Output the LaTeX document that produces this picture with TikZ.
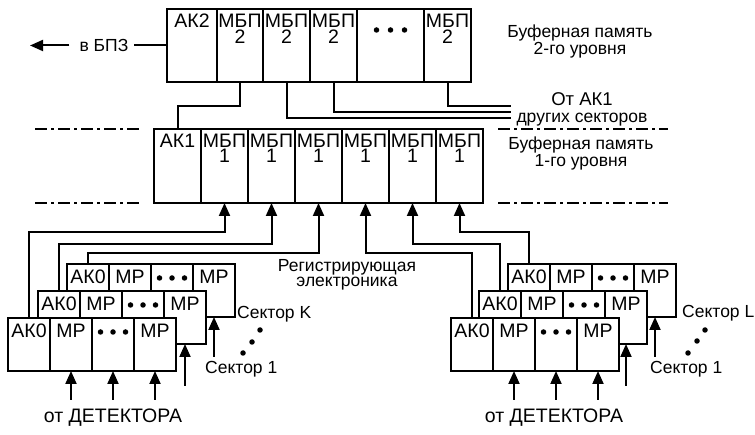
\documentclass[tikz,border=0pt]{standalone}
\usepackage{fontspec}
\setmainfont{Liberation Sans}
\usetikzlibrary{arrows.meta,calc}
\tikzset{
  cell/.style={draw, line width=2pt, fill=white, inner sep=0pt, outer sep=0pt, anchor=north west},
  ctext/.style={inner sep=0pt, anchor=north, align=center, font=\fontsize{19.5}{15.5}\selectfont},
  lbl/.style={inner sep=0pt, align=center, font=\fontsize{17.5}{15}\selectfont},
  capl/.style={inner sep=0pt, align=center, font=\fontsize{19.5}{15}\selectfont},
  wire/.style={line width=2pt},
  arr/.style={wire, -{Triangle[length=13pt,width=11pt]}},
  dashdot/.style={line width=2pt, dash pattern=on 12pt off 4pt on 3pt off 4pt},
  dotm/.style={fill, circle, inner sep=0pt, minimum size=5.5pt},
}
\newcommand\secblk[3]{%
  \node[cell, minimum width=42pt, minimum height=53pt] (#1a) at (#2,#3) {};
  \node[cell, minimum width=42pt, minimum height=53pt] (#1b) at (#1a.north east) {};
  \node[cell, minimum width=42pt, minimum height=53pt] (#1c) at (#1b.north east) {};
  \node[cell, minimum width=42pt, minimum height=53pt] (#1d) at (#1c.north east) {};
  \node[ctext] (#1ta) at ([yshift=-6pt]#1a.north) {АК0};
  \node[ctext] (#1tb) at ([yshift=-6pt]#1b.north) {МР};
  \node[dotm] (#1p1) at ([xshift=-12.5pt,yshift=-14pt]#1c.north) {};
  \node[dotm] (#1p2) at ([yshift=-14pt]#1c.north) {};
  \node[dotm] (#1p3) at ([xshift=12.5pt,yshift=-14pt]#1c.north) {};
  \node[ctext] (#1td) at ([yshift=-6pt]#1d.north) {МР};
}
\begin{document}
\begin{tikzpicture}[x=1pt,y=-1pt]
\useasboundingbox (0,0) rectangle (755,435);

% ---- level 2 buffer
\node[cell, minimum width=50pt, minimum height=73pt] (a0) at (167,9) {};
\node[cell, minimum width=46pt, minimum height=73pt] (a1) at (a0.north east) {};
\node[cell, minimum width=47pt, minimum height=73pt] (a2) at (a1.north east) {};
\node[cell, minimum width=47pt, minimum height=73pt] (a3) at (a2.north east) {};
\node[cell, minimum width=67pt, minimum height=73pt] (a4) at (a3.north east) {};
\node[cell, minimum width=47pt, minimum height=73pt] (a5) at (a4.north east) {};
\node[ctext] (ta0) at ([yshift=-5pt]a0.north) {АК2};
\node[ctext] (ta1) at ([yshift=-5pt]a1.north) {МБП\\2};
\node[ctext] (ta2) at ([yshift=-5pt]a2.north) {МБП\\2};
\node[ctext] (ta3) at ([yshift=-5pt]a3.north) {МБП\\2};
\node[ctext] (ta5) at ([yshift=-5pt]a5.north) {МБП\\2};
\node[dotm] (ad1) at ([xshift=-14pt,yshift=-21pt]a4.north) {};
\node[dotm] (ad2) at ([yshift=-21pt]a4.north) {};
\node[dotm] (ad3) at ([xshift=14pt,yshift=-21pt]a4.north) {};

% ---- level 1 buffer
\node[cell, minimum width=47pt, minimum height=74pt] (b0) at (154,129) {};
\foreach \i [count=\j from 0] in {1,...,6}{
  \node[cell, minimum width=47pt, minimum height=74pt] (b\i) at (b\j.north east) {};
  \node[ctext] (tb\i) at ([yshift=-4.5pt]b\i.north) {МБП\\1};
}
\node[ctext] (tb0) at ([yshift=-4.5pt]b0.north) {АК1};

% ---- sector blocks
\secblk{L3}{67}{264}
\secblk{L2}{38}{291}
\secblk{L1}{8}{318}
\secblk{R3}{508}{264}
\secblk{R2}{479}{291}
\secblk{R1}{451}{318}

% ---- dash-dot level lines
\coordinate (dla) at (35,129);  \coordinate (dlb) at (140,129);
\coordinate (dlc) at (35,203);  \coordinate (dld) at (140,203);
\coordinate (dra) at (498,129); \coordinate (drb) at (668,129);
\coordinate (drc) at (498,203); \coordinate (drd) at (668,203);
\draw[dashdot] (dla) -- (dlb);
\draw[dashdot] (dlc) -- (dld);
\draw[dashdot] (dra) -- (drb);
\draw[dashdot] (drc) -- (drd);

% ---- level 2 connections
\coordinate (e1) at (511,106);
\coordinate (e2) at (511,112);
\coordinate (e3) at (511,118);
\draw[wire] (a1.south) -- ([yshift=-24pt]a1.south) -| (b0.north);
\draw[wire] (a5.south) |- (e1);
\draw[wire] (a3.south) |- (e2);
\draw[wire] (a2.south) |- (e3);

% ---- to BPZ
\node[lbl] (bpz) at (104,45.5) {в БПЗ};
\coordinate (bpzl) at (30,45.5);
\draw[wire] (a0.west) -- ([xshift=5pt]bpz.east);
\draw[arr] ([xshift=-10pt]bpz.west) -- (bpzl);

% ---- sectors to level 1
\draw[arr] (L1a.north) |- ([yshift=-29pt]b1.south) -- (b1.south);
\draw[arr] (L2a.north) |- ([yshift=-41pt]b2.south) -- (b2.south);
\draw[arr] (L3a.north) |- ([yshift=-50pt]b3.south) -- (b3.south);
\draw[arr] (R1a.north) |- ([yshift=-50pt]b4.south) -- (b4.south);
\draw[arr] (R2a.north) |- ([yshift=-41pt]b5.south) -- (b5.south);
\draw[arr] (R3a.north) |- ([yshift=-29pt]b6.south) -- (b6.south);

% ---- detector inputs
\foreach \s in {L,R}{
  \foreach \c in {b,c,d}{
    \coordinate (\s d\c) at ([yshift=-29pt]\s1\c.south);
    \draw[arr] (\s d\c) -- (\s1\c.south);
  }
  \coordinate (\s m) at ([yshift=-42pt]\s2d.south);
  \draw[arr] (\s m) -- (\s2d.south);
  \coordinate (\s k) at ([yshift=-40pt]\s3d.south);
  \draw[arr] (\s k) -- (\s3d.south);
}

% ---- labels
\node[lbl, anchor=north] (bp2) at (580,25) {Буферная память\\2-го уровня};
\node[lbl, anchor=north] (bp1) at (581,137) {Буферная память\\1-го уровня};
\node[lbl, anchor=north, font=\fontsize{18.5}{15}\selectfont] (ak1o) at (582,92) {От АК1};
\node[lbl, anchor=north] (drs) at (582,113) {других секторов};
\node[lbl, anchor=north] (reg) at (347,259) {Регистрирующая\\электроника};
\node[capl, anchor=north] (detl) at (113,409) {от ДЕТЕКТОРА};
\node[capl, anchor=north] (detr) at (554,409) {от ДЕТЕКТОРА};
\node[lbl, anchor=west] (skl) at (237,314.5) {Сектор K};
\node[lbl, anchor=west] (s1l) at (205,369.5) {Сектор 1};
\node[lbl, anchor=west] (slr) at (682,313.5) {Сектор L};
\node[lbl, anchor=west] (s1r) at (650,369) {Сектор 1};

% ---- vertical dots
\node[dotm] (vl1) at (260,330) {};
\node[dotm] (vl2) at (252,342) {};
\node[dotm] (vl3) at (243,353) {};
\node[dotm] (vr1) at (705,330) {};
\node[dotm] (vr2) at (697,341) {};
\node[dotm] (vr3) at (688,353) {};
\end{tikzpicture}
\end{document}
